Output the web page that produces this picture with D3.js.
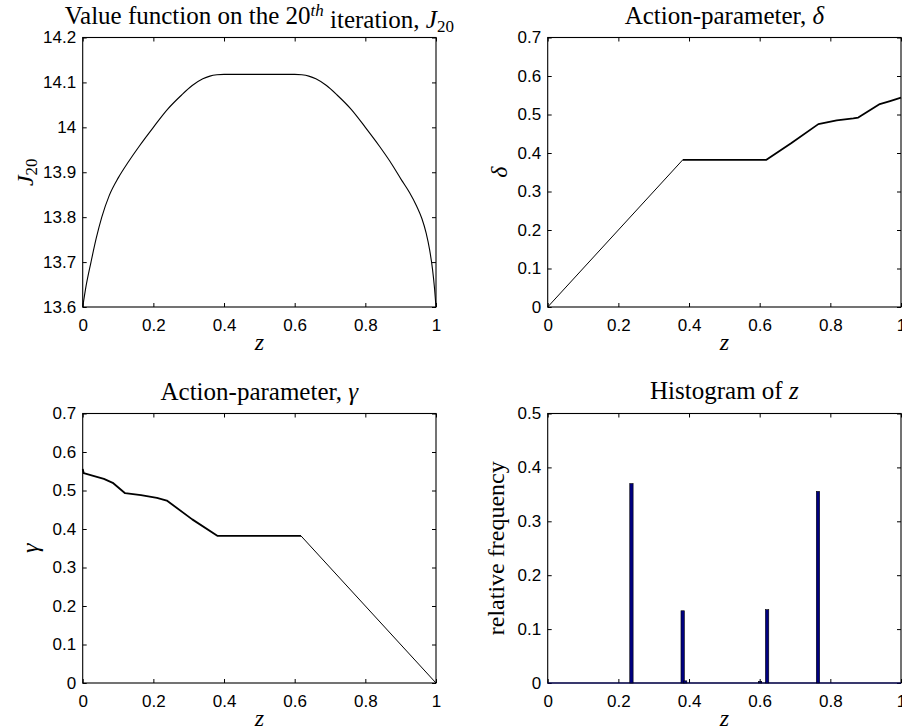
<!DOCTYPE html>
<html lang="en">
	<head>
		<meta charset="utf-8">
		<title>Value function, action parameters and histogram of z</title>
		<script src="https://d3js.org/d3.v7.min.js"></script>
		<style type="text/css">
			body { margin: 0; background: #fff; }
			svg { background-color: #fff; display: block; }
			.tick text { font-family: "Liberation Sans", Arial, sans-serif; font-size: 17px; fill: #000; }
			.tick line { stroke: #000; stroke-width: 1px; }
			.title, .label { font-family: "Liberation Serif", "Times New Roman", serif; fill: #000; }
		</style>
	</head>
	<body>
		<script type="text/javascript">

			//Width and height
			var w = 902;
			var h = 727;

			//Value function J20
			var jZ = [0, 0.008, 0.0235, 0.038, 0.054, 0.075, 0.101, 0.13, 0.16, 0.2, 0.24, 0.28, 0.31, 0.34, 0.36, 0.38, 0.4,
			          0.6, 0.62, 0.64, 0.66, 0.69, 0.72, 0.76, 0.8, 0.84, 0.87, 0.903, 0.925, 0.945, 0.96, 0.972, 0.982, 0.99, 0.996, 1];
			var jVal = [13.6, 13.64, 13.7, 13.752, 13.8, 13.848, 13.888, 13.924, 13.958, 14.0, 14.04, 14.072, 14.093, 14.108, 14.114, 14.117, 14.118,
			            14.118, 14.117, 14.114, 14.108, 14.093, 14.072, 14.04, 14.0, 13.958, 13.924, 13.882, 13.855, 13.825, 13.797, 13.765, 13.727, 13.685, 13.64, 13.6];

			//Action-parameter delta
			var deltaZ = [0, 0.382, 0.618, 0.69, 0.766, 0.818, 0.865, 0.879, 0.94, 0.969, 1];
			var deltaVal = [0, 0.382, 0.382, 0.426, 0.475, 0.485, 0.490, 0.492, 0.527, 0.535, 0.544];

			//Action-parameter gamma
			var gammaZ = [0, 0.003, 0.03, 0.06, 0.085, 0.12, 0.165, 0.21, 0.238, 0.31, 0.382, 0.618, 1];
			var gammaVal = [0.556, 0.545, 0.538, 0.53, 0.52, 0.493, 0.488, 0.481, 0.474, 0.425, 0.382, 0.382, 0];

			//Histogram of z (bin centres and relative frequencies)
			var histZ = [0.237, 0.382, 0.389, 0.601, 0.621, 0.765];
			var histFreq = [0.37, 0.134, 0.004, 0.003, 0.136, 0.3555];
			var binWidth = 0.0095;

			//Ticks
			var zTicks = [0, 0.2, 0.4, 0.6, 0.8, 1];
			var zTickLabels = ["0", "0.2", "0.4", "0.6", "0.8", "1"];
			var jTicks = [13.6, 13.7, 13.8, 13.9, 14, 14.1, 14.2];
			var jTickLabels = ["13.6", "13.7", "13.8", "13.9", "14", "14.1", "14.2"];
			var actTicks = [0, 0.1, 0.2, 0.3, 0.4, 0.5, 0.6, 0.7];
			var actTickLabels = ["0", "0.1", "0.2", "0.3", "0.4", "0.5", "0.6", "0.7"];
			var histTicks = [0, 0.1, 0.2, 0.3, 0.4, 0.5];
			var histTickLabels = ["0", "0.1", "0.2", "0.3", "0.4", "0.5"];

			//Create SVG element
			var svg = d3.select("body")
						.append("svg")
						.attr("width", w)
						.attr("height", h);

			var pw = 353.3, ph = 269.5;
			var colX = [82.7, 547.7];
			var rowY = [37.5, 413.5];

			//Build one panel with box, inward ticks on all sides and labels
			function panel(left, top, yDomain, yTicks, yLabels) {
				var g = svg.append("g").attr("transform", "translate(" + left + "," + top + ")");
				var x = d3.scaleLinear().domain([0, 1]).range([0, pw]);
				var y = d3.scaleLinear().domain(yDomain).range([ph, 0]);

				g.append("g")
					.attr("transform", "translate(0," + ph + ")")
					.call(d3.axisBottom(x).tickValues(zTicks).tickSize(-4).tickPadding(12)
						.tickFormat(function(d, i) { return zTickLabels[i]; }))
					.call(function(a) { a.select(".domain").remove(); });
				g.append("g")
					.call(d3.axisTop(x).tickValues(zTicks).tickSize(-4).tickFormat(""))
					.call(function(a) { a.select(".domain").remove(); });
				g.append("g")
					.call(d3.axisLeft(y).tickValues(yTicks).tickSize(-4).tickPadding(6.5)
						.tickFormat(function(d, i) { return yLabels[i]; }))
					.call(function(a) { a.select(".domain").remove(); });
				g.append("g")
					.attr("transform", "translate(" + pw + ",0)")
					.call(d3.axisRight(y).tickValues(yTicks).tickSize(-4).tickFormat(""))
					.call(function(a) { a.select(".domain").remove(); });

				g.append("rect")
					.attr("width", pw)
					.attr("height", ph)
					.attr("fill", "none")
					.attr("stroke", "#000")
					.attr("stroke-width", 1.1);

				return { g: g, x: x, y: y };
			}

			function lineOf(p, zs, vs, from, to, sw, curve) {
				var pts = zs.map(function(z, i) { return [z, vs[i]]; })
							.filter(function(d) { return d[0] >= from && d[0] <= to; });
				p.g.append("path")
					.datum(pts)
					.attr("fill", "none")
					.attr("stroke", "#000")
					.attr("stroke-width", sw)
					.attr("stroke-linejoin", "round")
					.attr("d", d3.line()
						.x(function(d) { return p.x(d[0]); })
						.y(function(d) { return p.y(d[1]); })
						.curve(curve));
			}

			function title(cx, by) {
				return svg.append("text")
					.attr("class", "title")
					.attr("x", cx)
					.attr("y", by)
					.attr("text-anchor", "middle")
					.style("font-size", "25px");
			}

			function zLabel(left, top) {
				svg.append("text")
					.attr("class", "label")
					.attr("x", left + pw / 2)
					.attr("y", top + ph + 42.5)
					.attr("text-anchor", "middle")
					.style("font-size", "24px")
					.style("font-style", "italic")
					.text("z");
			}

			function yLabel(left, top, off) {
				return svg.append("text")
					.attr("class", "label")
					.attr("text-anchor", "middle")
					.attr("transform", "translate(" + (left - off) + "," + (top + ph / 2) + ")rotate(-90)")
					.style("font-size", "24px");
			}

			// ---- J20 ----
			var p1 = panel(colX[0], rowY[0], [13.6, 14.2], jTicks, jTickLabels);
			lineOf(p1, jZ, jVal, 0, 1, 1.1, d3.curveMonotoneX);
			var t1 = title(colX[0] + pw / 2, 24);
			t1.append("tspan").text("Value function on the 20");
			t1.append("tspan").attr("dy", "-0.45em").style("font-size", "17px").style("font-style", "italic").text("th");
			t1.append("tspan").attr("dy", "0.45em").text(" iteration, ");
			t1.append("tspan").style("font-style", "italic").text("J");
			t1.append("tspan").attr("dy", "0.25em").style("font-size", "17px").text("20");
			zLabel(colX[0], rowY[0]);
			var l1 = yLabel(colX[0], rowY[0], 50);
			l1.append("tspan").style("font-style", "italic").text("J");
			l1.append("tspan").attr("dy", "0.25em").style("font-size", "17px").text("20");

			// ---- delta ----
			var p2 = panel(colX[1], rowY[0], [0, 0.7], actTicks, actTickLabels);
			lineOf(p2, deltaZ, deltaVal, 0, 0.382, 1, d3.curveLinear);
			lineOf(p2, deltaZ, deltaVal, 0.382, 1, 1.8, d3.curveLinear);
			var t2 = title(colX[1] + pw / 2, 24);
			t2.append("tspan").text("Action-parameter, ");
			t2.append("tspan").style("font-style", "italic").text("δ");
			zLabel(colX[1], rowY[0]);
			yLabel(colX[1], rowY[0], 41).style("font-style", "italic").text("δ");

			// ---- gamma ----
			var p3 = panel(colX[0], rowY[1], [0, 0.7], actTicks, actTickLabels);
			lineOf(p3, gammaZ, gammaVal, 0, 0.618, 1.8, d3.curveLinear);
			lineOf(p3, gammaZ, gammaVal, 0.618, 1, 1, d3.curveLinear);
			var t3 = title(colX[0] + pw / 2, 400);
			t3.append("tspan").text("Action-parameter, ");
			t3.append("tspan").style("font-style", "italic").text("γ");
			zLabel(colX[0], rowY[1]);
			yLabel(colX[0], rowY[1], 45).style("font-style", "italic").text("γ");

			// ---- histogram ----
			var p4 = panel(colX[1], rowY[1], [0, 0.5], histTicks, histTickLabels);
			p4.g.append("line")
				.attr("x1", p4.x(0)).attr("x2", p4.x(1))
				.attr("y1", p4.y(0)).attr("y2", p4.y(0))
				.attr("stroke", "#00006a")
				.attr("stroke-width", 1.2);
			p4.g.selectAll("rect.bar")
				.data(histZ)
				.enter()
				.append("rect")
				.attr("class", "bar")
				.attr("x", function(d) { return p4.x(d - binWidth / 2); })
				.attr("width", p4.x(binWidth) - p4.x(0))
				.attr("y", function(d, i) { return p4.y(histFreq[i]); })
				.attr("height", function(d, i) { return p4.y(0) - p4.y(histFreq[i]); })
				.attr("fill", "#000080")
				.attr("stroke", "#000")
				.attr("stroke-width", 0.6);
			var t4 = title(colX[1] + pw / 2, 399);
			t4.append("tspan").text("Histogram of ");
			t4.append("tspan").style("font-style", "italic").text("z");
			zLabel(colX[1], rowY[1]);
			yLabel(colX[1], rowY[1], 43.5).text("relative frequency");

		</script>
	</body>
</html>
